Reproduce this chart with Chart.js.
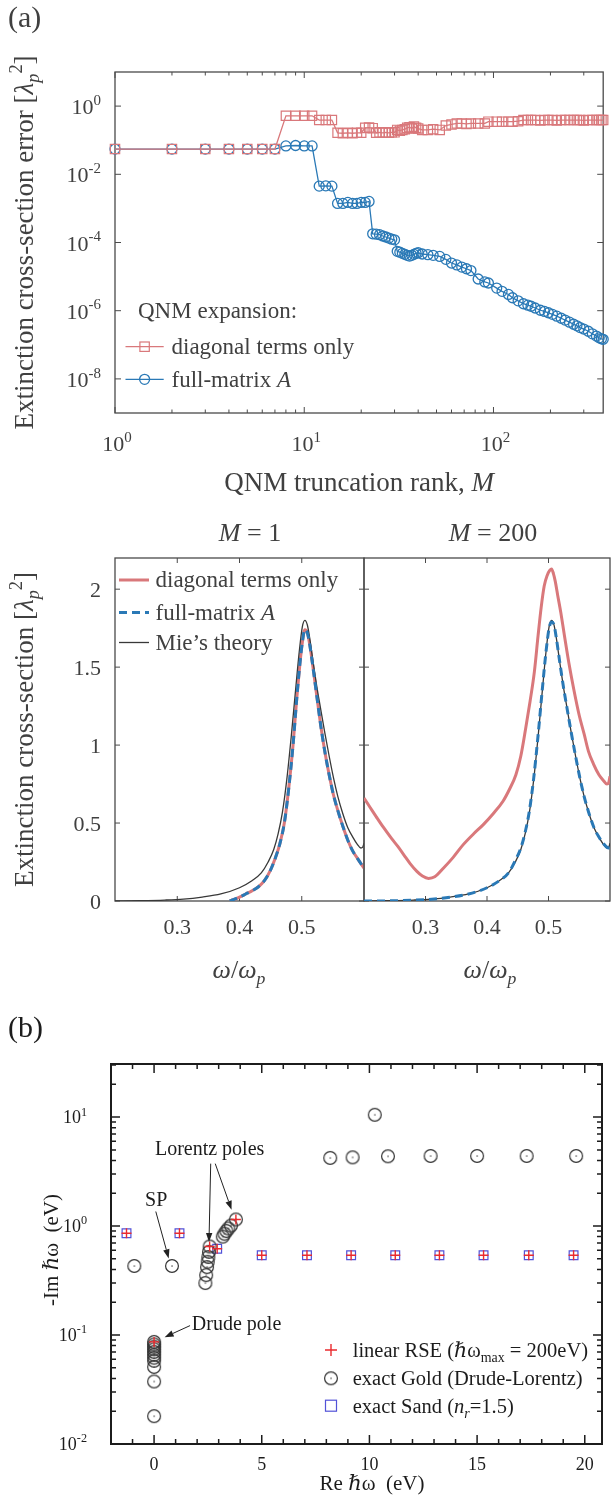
<!DOCTYPE html>
<html>
<head>
<meta charset="utf-8">
<title>QNM expansion convergence and resonant-state poles</title>
<script src="https://cdn.jsdelivr.net/npm/chart.js@4.4.1/dist/chart.umd.min.js"></script>
<style>
  html, body { margin: 0; padding: 0; background: #fff; }
  #fig { position: relative; width: 611px; height: 1496px; overflow: hidden; background: #fff; }
  #fig canvas { position: absolute; left: 0; }
</style>
</head>
<body>
<div id="fig">
  <canvas id="errChart" width="611" height="500" style="top:0px"></canvas>
  <canvas id="specM1" width="611" height="500" style="top:500px"></canvas>
  <canvas id="specM200" width="611" height="500" style="top:500px"></canvas>
  <canvas id="poleChart" width="611" height="496" style="top:1000px"></canvas>
</div>
<script>
// ---------- (a) top: extinction cross-section error vs. truncation rank ----------
const rankM = [1,2,3,4,5,6,7,8,9,10,11,12,13,14,15,16,17,18,19,20,
  21,22,23,24,25,26,27,28,29,30,31,32,33,34,35,36,37,38,39,40,
  42,45,48,52,56,60,64,68,72,76,
  83,90,94,104,111,120,126,135,144,152,158,166,177,186,195,205,216,228,239,252,
  265,276,287,300,317,333,350,362,372,380];
const errDiagonal = [0.055,0.055,0.055,0.055,0.055,0.055,0.055,
  0.52,0.52,0.52,0.52,
  0.39,0.39,0.39,
  0.165,0.16,0.165,0.16,0.165,0.165,
  0.23,0.235,0.225,
  0.165,0.17,0.165,0.17,0.165,0.17,0.17,
  0.2,0.19,0.2,0.21,
  0.23,0.24,0.22,0.25,0.23,0.22,
  0.2,0.2,0.21,0.2,0.27,0.29,0.31,0.31,0.3,0.31,
  0.31,0.31,0.35,0.35,0.35,0.35,0.35,0.36,0.39,0.39,
  0.39,0.39,0.38,0.39,0.39,0.39,0.38,0.39,0.39,0.39,
  0.39,0.39,0.39,0.38,0.39,0.39,0.39,0.39,0.39,0.39];
const errFullMatrix = [0.055,0.055,0.055,0.055,0.055,0.055,0.055,
  0.068,0.07,0.068,0.068,
  0.0045,0.0046,0.0045,
  0.0014,0.0014,0.0015,0.0014,0.0014,0.0015,0.0015,0.0016,
  1.8e-4,1.75e-4,1.7e-4,1.55e-4,1.45e-4,1.35e-4,1.25e-4,1.2e-4,
  5.5e-5,5.2e-5,4.8e-5,4.5e-5,4.2e-5,4.0e-5,4.2e-5,4.5e-5,4.8e-5,5.0e-5,
  4.6e-5,4.4e-5,4.2e-5,3.9e-5,3.2e-5,2.5e-5,2.2e-5,1.9e-5,1.7e-5,1.5e-5,
  8.5e-6,7.0e-6,6.5e-6,4.6e-6,3.7e-6,3.0e-6,2.4e-6,1.95e-6,1.6e-6,1.45e-6,
  1.35e-6,1.2e-6,1.03e-6,9.5e-7,8.7e-7,7.8e-7,6.9e-7,6.0e-7,5.3e-7,4.6e-7,
  4.0e-7,3.6e-7,3.2e-7,2.9e-7,2.5e-7,2.1e-7,1.8e-7,1.6e-7,1.5e-7,1.45e-7];
const errTickExp = [0, -2, -4, -6, -8];
const rankTickExp = [0, 1, 2];

// ---------- (a) bottom: extinction spectra for M = 1 and M = 200 ----------
const mieOmega = [0.20,0.24,0.28,0.31,0.34,0.37,0.40,
  0.42,0.435,0.446,0.455,0.462,0.469,0.476,0.483,0.49,0.496,
  0.501,0.505,0.509,0.513,0.518,0.524,0.53,0.537,0.544,0.551,
  0.558,0.566,0.574,0.582,0.589,0.595,0.598,0.6];
const mieSigma = [0.0,0.002,0.006,0.012,0.025,0.045,0.085,
  0.13,0.18,0.25,0.33,0.43,0.57,0.78,1.05,1.35,1.6,
  1.76,1.80,1.77,1.68,1.54,1.38,1.24,1.08,0.93,0.79,
  0.67,0.56,0.47,0.41,0.365,0.34,0.345,0.37];
// M = 1: diagonal-only and full-matrix results coincide
const m1Omega = [0.384,0.39,0.40,0.41,0.42,0.43,0.44,0.45,0.458,0.465,
  0.472,0.479,0.486,0.492,0.497,0.501,0.505,0.509,0.513,0.518,
  0.524,0.53,0.537,0.544,0.551,0.558,0.566,0.574,0.582,0.59,0.6];
const m1Sigma = [0.0,0.008,0.025,0.045,0.065,0.09,0.13,0.2,0.28,0.37,
  0.5,0.72,1.0,1.3,1.52,1.66,1.74,1.72,1.64,1.5,
  1.32,1.14,0.96,0.81,0.68,0.58,0.48,0.39,0.32,0.27,0.21];
// M = 200
const m200FullSigma = [0.0,0.001,0.005,0.011,0.024,0.045,0.085,
  0.13,0.18,0.26,0.34,0.44,0.58,0.79,1.06,1.36,1.6,
  1.75,1.79,1.77,1.68,1.54,1.38,1.24,1.08,0.93,0.79,
  0.67,0.56,0.47,0.41,0.37,0.345,0.34,0.34];
const m200DiagOmega = [0.2,0.21,0.22,0.232,0.245,0.255,0.265,0.275,0.286,0.295,
  0.305,0.315,0.329,0.345,0.361,0.378,0.394,0.41,0.426,0.437,
  0.447,0.455,0.463,0.47,0.477,0.483,0.488,0.493,0.498,0.502,
  0.505,0.508,0.511,0.515,0.52,0.526,0.533,0.541,0.55,0.558,
  0.565,0.573,0.582,0.59,0.595,0.598,0.6];
const m200DiagSigma = [0.66,0.6,0.54,0.47,0.4,0.35,0.295,0.24,0.19,0.16,
  0.145,0.155,0.21,0.28,0.36,0.43,0.49,0.56,0.64,0.72,
  0.81,0.93,1.11,1.28,1.47,1.7,1.88,2.02,2.09,2.12,
  2.13,2.1,2.05,1.96,1.85,1.7,1.53,1.36,1.19,1.07,
  0.96,0.88,0.81,0.77,0.75,0.76,0.8];
const omegaTicks = [0.3, 0.4, 0.5];
const omegaTickLabels = ['0.3', '0.4', '0.5'];
const sigmaTicks = [0, 0.5, 1, 1.5, 2];
const sigmaTickLabels = ['0', '0.5', '1', '1.5', '2'];

// ---------- (b): complex-frequency poles ----------
const goldRe = [0,0,0,0,0,0,0,0,0,0,0,
  -0.92,0.83,
  2.58,2.55,2.52,2.49,2.46,2.42,2.38,
  3.8,3.57,3.45,3.36,3.27,3.19,
  8.18,9.22,10.25,10.86,12.84,15.0,17.3,19.6];
const goldIm = [0.0865,0.082,0.078,0.074,0.07,0.066,0.062,0.058,0.051,0.0375,0.018,
  0.43,0.43,
  0.65,0.58,0.52,0.47,0.42,0.355,0.30,
  1.15,1.01,0.95,0.9,0.85,0.8,
  4.22,4.27,10.5,4.37,4.4,4.4,4.4,4.4];
const sandRe = [-1.28,1.18,2.93,5.0,7.1,9.15,11.2,13.25,15.3,17.4,19.48];
const sandIm = [0.86,0.86,0.62,0.54,0.54,0.54,0.54,0.54,0.54,0.54,0.54];
const rseRe = [-1.28,1.18,0,2.58,2.93,3.8,5.0,7.1,9.15,11.2,13.25,15.3,17.4,19.48];
const rseIm = [0.86,0.86,0.0865,0.65,0.62,1.15,0.54,0.54,0.54,0.54,0.54,0.54,0.54,0.54];
const reTicks = [0, 5, 10, 15, 20];
const imTickExp = [-2, -1, 0, 1];

// ---------- drawing helpers ----------
const SERIF = '"Liberation Serif", "Times New Roman", "DejaVu Serif", serif';
const INK_A = '#404040';
const AXIS_A = '#4a4a4a';
const INK_B = '#1c1c1c';
const RED = '#d9787b';
const BLUE = '#2a79b6';
const MIE_INK = '#383838';
const GOLD_INK = '#333333';
const SAND_BLUE = '#5252d8';
const RSE_RED = '#ea2a2e';

const pts = (xs, ys) => xs.map((x, i) => ({ x, y: ys[i] }));

// draws a run of text pieces: [text, 'i' | 'sup' | 'sub' | 'i sub' ...]
function richText(ctx, segs, x, y, o) {
  const size = o.size;
  const parts = segs.map(seg => {
    const t = seg[0];
    const st = (seg[1] || '').split(' ');
    const small = st.includes('sup') || st.includes('sub');
    const fs = small ? size * 0.68 : size;
    const font = (st.includes('i') ? 'italic ' : '') + fs.toFixed(2) + 'px ' + (o.family || SERIF);
    ctx.font = font;
    const dy = st.includes('sup') ? -size * 0.42 : st.includes('sub') ? size * 0.24 : 0;
    return { t, font, dy, w: ctx.measureText(t).width };
  });
  const total = parts.reduce((s, p) => s + p.w, 0);
  ctx.save();
  ctx.fillStyle = o.color;
  ctx.textBaseline = 'alphabetic';
  ctx.textAlign = 'left';
  ctx.translate(x, y);
  if (o.rot) ctx.rotate(o.rot);
  let cx = o.align === 'center' ? -total / 2 : o.align === 'right' ? -total : 0;
  for (const p of parts) { ctx.font = p.font; ctx.fillText(p.t, cx, p.dy); cx += p.w; }
  ctx.restore();
}

// inward tick marks on the chosen sides of the plot box
function tickMarks(ctx, chart, axisId, values, len, sides) {
  const a = chart.chartArea, s = chart.scales[axisId];
  ctx.beginPath();
  for (const v of values) {
    const p = s.getPixelForValue(v);
    if (s.isHorizontal()) {
      if (sides.includes('bottom')) { ctx.moveTo(p, a.bottom); ctx.lineTo(p, a.bottom - len); }
      if (sides.includes('top')) { ctx.moveTo(p, a.top); ctx.lineTo(p, a.top + len); }
    } else {
      if (sides.includes('left')) { ctx.moveTo(a.left, p); ctx.lineTo(a.left + len, p); }
      if (sides.includes('right')) { ctx.moveTo(a.right, p); ctx.lineTo(a.right - len, p); }
    }
  }
  ctx.stroke();
}

function minorLogTicks(expFrom, expTo, max) {
  const out = [];
  for (let e = expFrom; e <= expTo; e++) {
    for (let k = 2; k <= 9; k++) { const v = k * Math.pow(10, e); if (v <= max) out.push(v); }
  }
  return out;
}

function baseOptions(pad, xScale, yScale) {
  return {
    responsive: false, animation: false, devicePixelRatio: 1, events: [],
    layout: { padding: pad },
    plugins: { legend: { display: false }, tooltip: { enabled: false } },
    scales: {
      x: Object.assign({ display: false }, xScale),
      y: Object.assign({ display: false }, yScale)
    }
  };
}

// ---------- (a) top chart ----------
new Chart(document.getElementById('errChart'), {
  type: 'line',
  data: {
    datasets: [
      {
        label: 'diagonal terms only', data: pts(rankM, errDiagonal),
        borderColor: RED, borderWidth: 1.3, pointStyle: 'rect', pointRadius: 6.6,
        pointBorderColor: RED, pointBorderWidth: 1.2, pointBackgroundColor: 'rgba(0,0,0,0)',
        clip: false, order: 0
      },
      {
        label: 'full-matrix A', data: pts(rankM, errFullMatrix),
        borderColor: BLUE, borderWidth: 1.3, pointStyle: 'circle', pointRadius: 5,
        pointBorderColor: BLUE, pointBorderWidth: 1.3, pointBackgroundColor: 'rgba(0,0,0,0)',
        clip: false, order: 1
      }
    ]
  },
  options: baseOptions({ left: 115, top: 72, right: 1, bottom: 87 },
    { type: 'logarithmic', min: 1, max: 380 },
    { type: 'logarithmic', min: 1e-9, max: 10 }),
  plugins: [{
    id: 'axesA',
    beforeDatasetsDraw(chart) {
      const { ctx, chartArea: a } = chart;
      ctx.save();
      ctx.strokeStyle = AXIS_A; ctx.lineWidth = 1.3;
      ctx.strokeRect(a.left, a.top, a.right - a.left, a.bottom - a.top);
      ctx.lineWidth = 1;
      tickMarks(ctx, chart, 'x', rankTickExp.map(e => Math.pow(10, e)), 6, ['top', 'bottom']);
      tickMarks(ctx, chart, 'x', minorLogTicks(0, 2, 380), 3.5, ['top', 'bottom']);
      tickMarks(ctx, chart, 'y', errTickExp.map(e => Math.pow(10, e)), 6, ['left', 'right']);
      ctx.restore();
    },
    afterDraw(chart) {
      const { ctx, chartArea: a, scales } = chart;
      richText(ctx, [['(a)']], 8, 27, { size: 30, color: INK_A });
      for (const e of errTickExp) {
        const y = scales.y.getPixelForValue(Math.pow(10, e));
        richText(ctx, [['10'], [String(e), 'sup']], 101, y + 8, { size: 22, color: INK_A, align: 'right' });
      }
      for (const e of rankTickExp) {
        const x = scales.x.getPixelForValue(Math.pow(10, e));
        richText(ctx, [['10'], [String(e), 'sup']], x + 2, 451, { size: 22, color: INK_A, align: 'center' });
      }
      richText(ctx, [['QNM truncation rank, '], ['M', 'i']], (a.left + a.right) / 2, 491,
        { size: 27, color: INK_A, align: 'center' });
      richText(ctx, [['Extinction cross-section error ['], ['λ', 'i'], ['p', 'i sub'], ['2', 'sup'], [']']],
        33, (a.top + a.bottom) / 2, { size: 27, color: INK_A, align: 'center', rot: -Math.PI / 2 });
      // legend
      richText(ctx, [['QNM expansion:']], 138, 318, { size: 23, color: INK_A });
      ctx.save();
      ctx.lineWidth = 1.3;
      ctx.strokeStyle = RED;
      ctx.beginPath(); ctx.moveTo(125.5, 346.7); ctx.lineTo(163.7, 346.7); ctx.stroke();
      ctx.lineWidth = 1.2;
      ctx.strokeRect(144.6 - 4.7, 346.7 - 4.7, 9.4, 9.4);
      ctx.strokeStyle = BLUE; ctx.lineWidth = 1.3;
      ctx.beginPath(); ctx.moveTo(125.5, 379.3); ctx.lineTo(163.7, 379.3); ctx.stroke();
      ctx.beginPath(); ctx.arc(144.6, 379.3, 5, 0, 2 * Math.PI); ctx.stroke();
      ctx.restore();
      richText(ctx, [['diagonal terms only']], 171.5, 354, { size: 23, color: INK_A });
      richText(ctx, [['full-matrix '], ['A', 'i']], 171.5, 386.5, { size: 23, color: INK_A });
    }
  }]
});

// ---------- (a) bottom: two spectra panels sharing one box ----------
function spectrumChart(canvasId, pad, datasets, title, titleX, xLabelX, withYAxis, withLegend) {
  return new Chart(document.getElementById(canvasId), {
    type: 'line',
    data: { datasets },
    options: baseOptions(pad,
      { type: 'linear', min: 0.2, max: 0.6 },
      { type: 'linear', min: 0, max: 2.2 }),
    plugins: [{
      id: 'axes_' + canvasId,
      beforeDatasetsDraw(chart) {
        const { ctx, chartArea: a } = chart;
        ctx.save();
        ctx.strokeStyle = AXIS_A; ctx.lineWidth = 1.3;
        ctx.strokeRect(a.left, a.top, a.right - a.left, a.bottom - a.top);
        ctx.lineWidth = 1;
        tickMarks(ctx, chart, 'x', omegaTicks, 5, ['top', 'bottom']);
        tickMarks(ctx, chart, 'y', sigmaTicks, 5, ['left', 'right']);
        ctx.restore();
      },
      afterDraw(chart) {
        const { ctx, chartArea: a, scales } = chart;
        omegaTicks.forEach((v, i) => {
          richText(ctx, [[omegaTickLabels[i]]], scales.x.getPixelForValue(v), 434,
            { size: 22, color: INK_A, align: 'center' });
        });
        richText(ctx, [['ω', 'i'], ['/'], ['ω', 'i'], ['p', 'i sub']], xLabelX, 478,
          { size: 26, color: INK_A, align: 'center' });
        richText(ctx, title, titleX, 41, { size: 26, color: INK_A, align: 'center' });
        if (withYAxis) {
          sigmaTicks.forEach((v, i) => {
            richText(ctx, [[sigmaTickLabels[i]]], 101, scales.y.getPixelForValue(v) + 7.5,
              { size: 22, color: INK_A, align: 'right' });
          });
          richText(ctx, [['Extinction cross-section ['], ['λ', 'i'], ['p', 'i sub'], ['2', 'sup'], [']']],
            33, (a.top + a.bottom) / 2, { size: 27, color: INK_A, align: 'center', rot: -Math.PI / 2 });
        }
        if (withLegend) {
          const rows = [
            { y: 80, color: RED, width: 3, dash: [], text: [['diagonal terms only']] },
            { y: 112.5, color: BLUE, width: 3, dash: [8, 5], text: [['full-matrix '], ['A', 'i']] },
            { y: 142.5, color: MIE_INK, width: 1.3, dash: [], text: [['Mie’s theory']] }
          ];
          for (const r of rows) {
            ctx.save();
            ctx.strokeStyle = r.color; ctx.lineWidth = r.width; ctx.setLineDash(r.dash);
            ctx.beginPath(); ctx.moveTo(119, r.y); ctx.lineTo(149, r.y); ctx.stroke();
            ctx.restore();
            richText(ctx, r.text, 155.5, r.y + 7, { size: 23, color: INK_A });
          }
        }
      }
    }]
  });
}

const curve = (data, color, width, dash, order) => ({
  data, borderColor: color, borderWidth: width, borderDash: dash, pointRadius: 0,
  cubicInterpolationMode: 'monotone', order, fill: false
});

spectrumChart('specM1', { left: 115, top: 58, right: 247, bottom: 99 }, [
  curve(pts(m1Omega, m1Sigma), BLUE, 3, [8, 5], 0),
  curve(pts(mieOmega, mieSigma), MIE_INK, 1.3, [], 1),
  curve(pts(m1Omega, m1Sigma), RED, 3, [], 2)
], [['M', 'i'], [' = 1']], 250, 239, true, true);

spectrumChart('specM200', { left: 364, top: 58, right: 1, bottom: 99 }, [
  curve(pts(mieOmega, m200FullSigma), BLUE, 3, [8, 5], 0),
  curve(pts(mieOmega, mieSigma), MIE_INK, 1.3, [], 1),
  curve(pts(m200DiagOmega, m200DiagSigma), RED, 3, [], 2)
], [['M', 'i'], [' = 200']], 493, 490, false, false);

// ---------- (b): poles in the complex frequency plane ----------
function goldMarker() {
  const c = document.createElement('canvas');
  c.width = 16; c.height = 16;
  const g = c.getContext('2d');
  g.strokeStyle = GOLD_INK; g.lineWidth = 1.2;
  g.beginPath(); g.arc(8, 8, 6.4, 0, 2 * Math.PI); g.stroke();
  g.fillStyle = '#444'; g.fillRect(7.4, 7.4, 1.3, 1.3);
  return c;
}
const goldPoint = goldMarker();

// annotation text and arrows, placed in data coordinates
const poleNotes = [
  { text: 'SP', re: 0.1, im: 1.79 },
  { text: 'Lorentz poles', re: 2.58, im: 5.2 },
  { text: 'Drude pole', re: 3.83, im: 0.128 }
];
const poleArrows = [
  [0.08, 1.36, 0.68, 0.505],
  [2.63, 3.74, 2.55, 0.714],
  [2.84, 3.74, 3.6, 1.41],
  [1.67, 0.122, 0.49, 0.0955]
];

new Chart(document.getElementById('poleChart'), {
  type: 'scatter',
  data: {
    datasets: [
      {
        label: 'linear RSE', data: pts(rseRe, rseIm), pointStyle: 'cross', pointRadius: 5,
        pointBorderColor: RSE_RED, pointBorderWidth: 1.4, showLine: false, order: 0, clip: false
      },
      {
        label: 'exact Gold (Drude-Lorentz)', data: pts(goldRe, goldIm), pointStyle: goldPoint,
        pointRadius: 8, showLine: false, order: 1, clip: false
      },
      {
        label: 'exact Sand', data: pts(sandRe, sandIm), pointStyle: 'rect', pointRadius: 6.2,
        pointBorderColor: SAND_BLUE, pointBorderWidth: 1.2, pointBackgroundColor: 'rgba(0,0,0,0)',
        showLine: false, order: 2, clip: false
      }
    ]
  },
  options: baseOptions({ left: 111, top: 64, right: 1, bottom: 52 },
    { type: 'linear', min: -2, max: 20.8 },
    { type: 'logarithmic', min: 0.01, max: 30.7 }),
  plugins: [{
    id: 'axesB',
    beforeDatasetsDraw(chart) {
      const { ctx, chartArea: a } = chart;
      ctx.save();
      ctx.strokeStyle = INK_B; ctx.lineWidth = 2;
      ctx.strokeRect(a.left, a.top, a.right - a.left, a.bottom - a.top);
      ctx.lineWidth = 1.5;
      const minorRe = [];
      for (let v = -1; v <= 20; v++) if (v % 5 !== 0) minorRe.push(v);
      tickMarks(ctx, chart, 'x', reTicks, 9, ['top', 'bottom']);
      tickMarks(ctx, chart, 'x', minorRe, 5, ['top', 'bottom']);
      tickMarks(ctx, chart, 'y', imTickExp.map(e => Math.pow(10, e)), 9, ['left', 'right']);
      tickMarks(ctx, chart, 'y', minorLogTicks(-2, 1, 30.7), 5, ['left', 'right']);
      ctx.restore();
    },
    afterDraw(chart) {
      const { ctx, chartArea: a, scales } = chart;
      richText(ctx, [['(b)']], 8, 37, { size: 30, color: INK_B });
      for (const v of reTicks) {
        richText(ctx, [[String(v)]], scales.x.getPixelForValue(v), 470, { size: 18, color: INK_B, align: 'center' });
      }
      for (const e of imTickExp) {
        richText(ctx, [['10'], [String(e), 'sup']], 87, scales.y.getPixelForValue(Math.pow(10, e)) + 6,
          { size: 18, color: INK_B, align: 'right' });
      }
      richText(ctx, [['Re ℏω  (eV)']], 372, 490, { size: 21, color: INK_B, align: 'center' });
      richText(ctx, [['-Im ℏω  (eV)']], 58, 250, { size: 21, color: INK_B, align: 'center', rot: -Math.PI / 2 });

      // annotations
      for (const n of poleNotes) {
        richText(ctx, [[n.text]], scales.x.getPixelForValue(n.re), scales.y.getPixelForValue(n.im) + 7,
          { size: 20, color: INK_B, align: 'center' });
      }
      ctx.save();
      ctx.strokeStyle = '#222'; ctx.fillStyle = '#222'; ctx.lineWidth = 1;
      for (const [r0, i0, r1, i1] of poleArrows) {
        const x0 = scales.x.getPixelForValue(r0), y0 = scales.y.getPixelForValue(i0);
        const x1 = scales.x.getPixelForValue(r1), y1 = scales.y.getPixelForValue(i1);
        const ang = Math.atan2(y1 - y0, x1 - x0);
        const hl = 9, hw = 3.2;
        const bx = x1 - hl * Math.cos(ang), by = y1 - hl * Math.sin(ang);
        ctx.beginPath(); ctx.moveTo(x0, y0); ctx.lineTo(bx, by); ctx.stroke();
        ctx.beginPath();
        ctx.moveTo(x1, y1);
        ctx.lineTo(bx + hw * Math.sin(ang), by - hw * Math.cos(ang));
        ctx.lineTo(bx - hw * Math.sin(ang), by + hw * Math.cos(ang));
        ctx.closePath(); ctx.fill();
      }
      ctx.restore();

      // legend
      const lx = 331;
      ctx.save();
      ctx.strokeStyle = RSE_RED; ctx.lineWidth = 1.4;
      ctx.beginPath(); ctx.moveTo(lx - 6, 350); ctx.lineTo(lx + 6, 350);
      ctx.moveTo(lx, 344); ctx.lineTo(lx, 356); ctx.stroke();
      ctx.drawImage(goldPoint, lx - 8, 378.3 - 8);
      ctx.strokeStyle = SAND_BLUE; ctx.lineWidth = 1.2;
      ctx.strokeRect(lx - 5.5, 405.7 - 5.5, 11, 11);
      ctx.restore();
      richText(ctx, [['linear RSE (ℏω'], ['max', 'sub'], [' = 200eV)']], 352.7, 357, { size: 20.5, color: INK_B });
      richText(ctx, [['exact Gold (Drude-Lorentz)']], 352.7, 385.3, { size: 20.5, color: INK_B });
      richText(ctx, [['exact Sand ('], ['n', 'i'], ['r', 'i sub'], ['=1.5)']], 352.7, 412.7, { size: 20.5, color: INK_B });
    }
  }]
});
</script>
</body>
</html>
